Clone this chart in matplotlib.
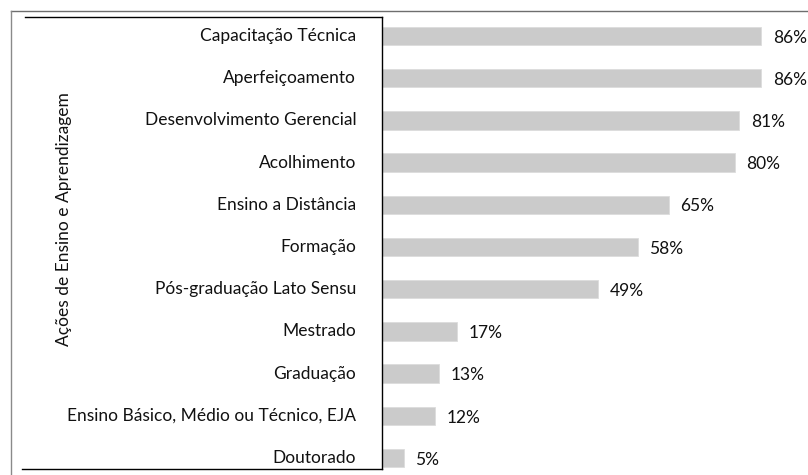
import matplotlib.pyplot as plt
from matplotlib.lines import Line2D

# --- Data ---
categories = [
    'Capacitação Técnica',
    'Aperfeiçoamento',
    'Desenvolvimento Gerencial',
    'Acolhimento',
    'Ensino a Distância',
    'Formação',
    'Pós-graduação Lato Sensu',
    'Mestrado',
    'Graduação',
    'Ensino Básico, Médio ou Técnico, EJA',
    'Doutorado',
]
values = [86, 86, 81, 80, 65, 58, 49, 17, 13, 12, 5]
value_labels = [f'{v}%' for v in values]
axis_title = 'Ações de Ensino e Aprendizagem'

plt.rcParams['font.family'] = ['Lato', 'DejaVu Sans']
FS = 12.5

W, H = 808, 475
fig = plt.figure(figsize=(W / 100, H / 100), dpi=100)

# axes covers the bar region; left spine is the boxed label area's right edge
ax = fig.add_axes([382 / W, 6 / H, (W - 382) / W, 452 / H])
ypos = list(range(len(categories)))
ax.barh(ypos, values, height=0.44, color='#cbcbcb', edgecolor='#dcdcdc', linewidth=0.6)
ax.set_xlim(0, 96.6)
ax.set_ylim(10.26, -0.45)

for y, v, lab in zip(ypos, values, value_labels):
    ax.text(v + 2.6, y + 0.04, lab, va='center', ha='left', fontsize=FS, color='#111111')

ax.set_yticks(ypos)
ax.set_yticklabels(categories, fontsize=FS, color='#111111', va='center')
ax.tick_params(axis='y', length=0, pad=18.5)
ax.set_xticks([])
for s in ['top', 'right', 'bottom']:
    ax.spines[s].set_visible(False)
ax.spines['left'].set_color('black')
ax.spines['left'].set_linewidth(1.0)

fig.text(64 / W, 1 - 219 / H, axis_title, rotation=90, ha='center', va='center',
         fontsize=FS, color='#111111')

# box lines around label area
def fx(px):
    return px / W

def fy(py):
    return 1 - py / H

fig.add_artist(Line2D([fx(25), fx(382)], [fy(17), fy(17)], color='black', lw=1.0))
fig.add_artist(Line2D([fx(22), fx(382)], [fy(469), fy(469)], color='black', lw=1.0))

# outer gray chart border
fig.add_artist(Line2D([fx(11), fx(808)], [fy(11), fy(11)], color='#6e6e6e', lw=1.0))
fig.add_artist(Line2D([fx(11), fx(11)], [fy(11), fy(475)], color='#8a8a8a', lw=1.0))

fig.savefig('out.png', dpi=100)
